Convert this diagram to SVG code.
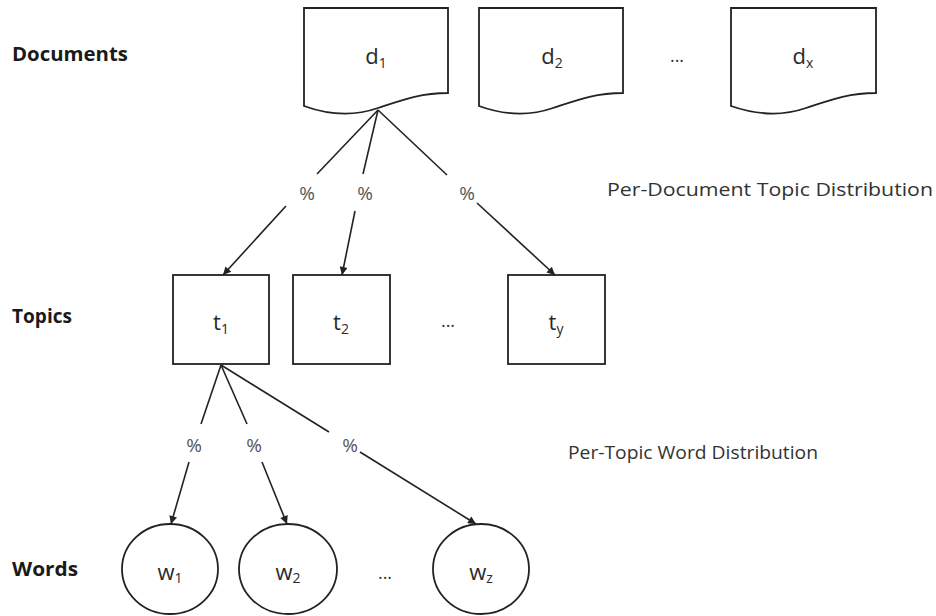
<svg xmlns="http://www.w3.org/2000/svg" width="936" height="616" viewBox="0 0 936 616">
<style>
.shape{fill:#fff;stroke:#222;stroke-width:1.8}
.edge{fill:none;stroke:#222;stroke-width:1.6}
.lab{font-family:"Open Sans","Liberation Sans",sans-serif;font-weight:bold;font-size:19px;fill:#1a1a1a}
.desc{font-family:"Open Sans","Liberation Sans",sans-serif;font-size:18px;fill:#333}
.nt{font-family:"Open Sans","Liberation Sans",sans-serif;font-size:22px;fill:#2a2a2a;text-anchor:middle}
.sub{font-size:14px}
.pct{font-family:"Open Sans","Liberation Sans",sans-serif;font-size:19px;fill:#555;text-anchor:middle}
.dots{font-family:"Open Sans","Liberation Sans",sans-serif;font-size:18px;fill:#333;text-anchor:middle}
</style>
<defs>
<marker id="arr" viewBox="0 0 10 10" refX="10" refY="5" markerWidth="9" markerHeight="8" markerUnits="userSpaceOnUse" orient="auto">
<path d="M0,0 L10,5 L0,10 Z" fill="#222"/>
</marker>
</defs>
<rect width="936" height="616" fill="#fff"/>

<g id="row-labels">
<text class="lab" x="12" y="61" textLength="116" lengthAdjust="spacingAndGlyphs">Documents</text>
<text class="lab" x="12" y="323" textLength="60" lengthAdjust="spacingAndGlyphs">Topics</text>
<text class="lab" x="12" y="576" textLength="66" lengthAdjust="spacingAndGlyphs">Words</text>
<text class="desc" x="607" y="196" textLength="326" lengthAdjust="spacingAndGlyphs">Per-Document Topic Distribution</text>
<text class="desc" x="568" y="459" textLength="250" lengthAdjust="spacingAndGlyphs">Per-Topic Word Distribution</text>
</g>

<g id="doc-d1">
<path class="shape" d="M304,8 H448 V93 C420,93 402,100 378,108 C352,117 326,114 304,106 Z"/>
<text class="nt" x="376" y="64">d<tspan class="sub" dy="4">1</tspan></text>
</g>
<g id="doc-d2">
<path class="shape" d="M479,8 H623 V93 C595,93 577,100 553,108 C527,117 501,114 479,106 Z"/>
<text class="nt" x="552" y="64">d<tspan class="sub" dy="4">2</tspan></text>
</g>
<text class="dots" x="677" y="62">...</text>
<g id="doc-dx">
<path class="shape" d="M731,8 H876 V93 C848,93 830,100 806,108 C780,117 754,114 731,106 Z"/>
<text class="nt" x="803" y="64">d<tspan class="sub" dy="4">x</tspan></text>
</g>

<g id="topic-t1">
<rect class="shape" x="173" y="275" width="96" height="89"/>
<text class="nt" x="221" y="330">t<tspan class="sub" dy="4">1</tspan></text>
</g>
<g id="topic-t2">
<rect class="shape" x="293" y="275" width="97" height="89"/>
<text class="nt" x="341" y="330">t<tspan class="sub" dy="4">2</tspan></text>
</g>
<text class="dots" x="448" y="327">...</text>
<g id="topic-ty">
<rect class="shape" x="508" y="275" width="97" height="89"/>
<text class="nt" x="556" y="330">t<tspan class="sub" dy="4">y</tspan></text>
</g>

<g id="word-w1">
<ellipse class="shape" cx="170" cy="569" rx="48" ry="45"/>
<text class="nt" x="170" y="580">w<tspan class="sub" dy="3">1</tspan></text>
</g>
<g id="word-w2">
<ellipse class="shape" cx="288" cy="569" rx="49" ry="45"/>
<text class="nt" x="288" y="580">w<tspan class="sub" dy="3">2</tspan></text>
</g>
<text class="dots" x="385" y="579">...</text>
<g id="word-wz">
<ellipse class="shape" cx="481" cy="569" rx="48" ry="45"/>
<text class="nt" x="481" y="580">w<tspan class="sub" dy="3">z</tspan></text>
</g>

<g id="connectors">
<line class="edge" x1="378" y1="110" x2="317" y2="174"/>
<line class="edge" x1="286" y1="206" x2="223" y2="275" marker-end="url(#arr)"/>
<line class="edge" x1="378" y1="110" x2="363" y2="174"/>
<line class="edge" x1="355" y1="211" x2="342" y2="275" marker-end="url(#arr)"/>
<line class="edge" x1="378" y1="110" x2="447" y2="175"/>
<line class="edge" x1="477" y1="203" x2="555" y2="275" marker-end="url(#arr)"/>

<line class="edge" x1="221" y1="365" x2="201" y2="424"/>
<line class="edge" x1="189" y1="462" x2="171" y2="524" marker-end="url(#arr)"/>
<line class="edge" x1="221" y1="365" x2="247" y2="424"/>
<line class="edge" x1="262" y1="462" x2="287" y2="524" marker-end="url(#arr)"/>
<line class="edge" x1="221" y1="365" x2="329" y2="432"/>
<line class="edge" x1="360" y1="452" x2="476" y2="524" marker-end="url(#arr)"/>

<text class="pct" x="307" y="200">%</text>
<text class="pct" x="365" y="200">%</text>
<text class="pct" x="467" y="200">%</text>
<text class="pct" x="194" y="452">%</text>
<text class="pct" x="254" y="452">%</text>
<text class="pct" x="350" y="452">%</text>
</g>
</svg>
